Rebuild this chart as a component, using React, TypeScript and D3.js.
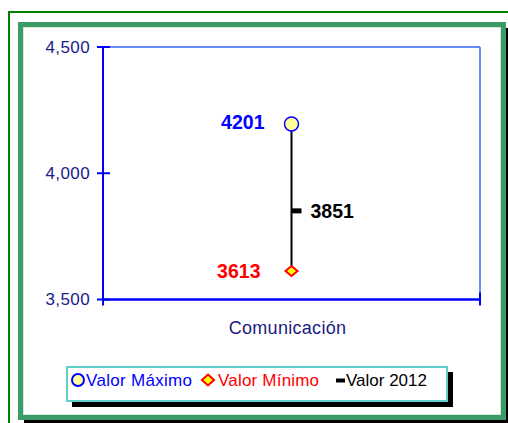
import React from "react";
import * as d3 from "d3";

const categories = ["Comunicación"];
const maxValues = [4201];
const minValues = [3613];
const values2012 = [3851];
const yTicks = [3500, 4000, 4500];
const legendItems = ["Valor Máximo", "Valor Mínimo", "Valor 2012"];

const W = 508;
const H = 423;
const FONT = "Arial, 'Liberation Sans', sans-serif";

export default function App() {
  const plot = { left: 103, right: 480, top: 47, bottom: 299.5 };
  const y = d3.scaleLinear().domain([3500, 4500]).range([plot.bottom, plot.top]);
  const x = d3
    .scaleBand<string>()
    .domain(categories)
    .range([plot.left, plot.right])
    .padding(0);
  const fmt = d3.format(",");

  const diamond = (cx: number, cy: number, w: number, h: number) =>
    `M${cx},${cy - h / 2} L${cx + w / 2},${cy} L${cx},${cy + h / 2} L${cx - w / 2},${cy} Z`;

  return (
    <div style={{ position: "absolute", left: 0, top: 0 }}>
      <svg width={W} height={H} style={{ display: "block" }} fontFamily={FONT}>
        <rect width={W} height={H} fill="#ffffff" />
        {/* outer thin green border */}
        <rect x={9} y={12} width={W + 20} height={H + 20} fill="none" stroke="#008000" strokeWidth={2} />
        {/* shadow of thick frame */}
        <rect x={24} y={28} width={484} height={395} fill="#000000" />
        {/* thick frame */}
        <rect x={18} y={22} width={488} height={398} fill="#3b9c68" />
        <rect x={23} y={27} width={478} height={388} fill="#cfe8d8" />
        <rect x={24} y={28} width={476} height={386} fill="#ffffff" />

        {/* plot frame */}
        <line x1={plot.left} x2={plot.right} y1={plot.top} y2={plot.top} stroke="#3366ff" strokeWidth={1.5} />
        <line x1={plot.right} x2={plot.right} y1={plot.top} y2={plot.bottom} stroke="#3366ff" strokeWidth={1.5} />
        {/* y axis */}
        <line x1={plot.left} x2={plot.left} y1={plot.top - 1} y2={plot.bottom + 1} stroke="#0000ff" strokeWidth={2} />
        {yTicks.map((t) => (
          <g key={t}>
            <line x1={97} x2={110} y1={y(t)} y2={y(t)} stroke="#0000ff" strokeWidth={2} />
            <text
              x={90}
              y={y(t)}
              textAnchor="end"
              dominantBaseline="central"
              fontSize={17}
              fill="#1a1a8c"
              letterSpacing={0.4}
            >
              {fmt(t)}
            </text>
          </g>
        ))}
        {/* x axis */}
        <line x1={plot.left} x2={plot.right} y1={plot.bottom} y2={plot.bottom} stroke="#0000ff" strokeWidth={2.5} />
        {[plot.left, plot.right].map((tx, i) => (
          <line key={i} x1={tx} x2={tx} y1={plot.bottom - 7} y2={plot.bottom + 6} stroke="#0000ff" strokeWidth={2} />
        ))}
        {categories.map((c) => (
          <text
            key={c}
            x={(x(c) ?? 0) + x.bandwidth() / 2 - 4}
            y={328}
            textAnchor="middle"
            dominantBaseline="central"
            fontSize={18}
            fill="#1a1a80"
            letterSpacing={0.3}
          >
            {c}
          </text>
        ))}

        {/* high-low lines and markers */}
        {categories.map((c, i) => {
          const cx = (x(c) ?? 0) + x.bandwidth() / 2;
          const yMax = y(maxValues[i]);
          const yMin = y(minValues[i]);
          const yV = y(values2012[i]);
          return (
            <g key={c}>
              <line x1={cx} x2={cx} y1={yMax} y2={yMin} stroke="#000000" strokeWidth={2} />
              <rect x={cx} y={yV - 2.5} width={10} height={5} fill="#000000" />
              <circle cx={cx} cy={yMax + 1.5} r={7} fill="#ffff99" stroke="#0000ff" strokeWidth={1.5} />
              <path d={diamond(cx, yMin, 12, 10)} fill="#ffff00" stroke="#ff0000" strokeWidth={2} />
              <text x={cx - 27} y={yMax} textAnchor="end" dominantBaseline="central" fontSize={19.5} fontWeight="bold" fill="#0000ff">
                {maxValues[i]}
              </text>
              <text x={cx - 31} y={yMin} textAnchor="end" dominantBaseline="central" fontSize={19.5} fontWeight="bold" fill="#ff0000">
                {minValues[i]}
              </text>
              <text x={cx + 19} y={yV} textAnchor="start" dominantBaseline="central" fontSize={19.5} fontWeight="bold" fill="#000000">
                {values2012[i]}
              </text>
            </g>
          );
        })}

        {/* legend */}
        <rect x={72} y={372} width={381} height={35} fill="#000000" />
        <rect x={67} y={367} width={380} height={34} fill="#ffffff" stroke="#5ccfcf" strokeWidth={2} />
        <circle cx={78} cy={380} r={6} fill="#ffff99" stroke="#0000ff" strokeWidth={2} />
        <text x={86} y={380} dominantBaseline="central" fontSize={17} fill="#0000ff" letterSpacing={0.3}>
          {legendItems[0]}
        </text>
        <path d={diamond(208, 380, 12, 11)} fill="#ffff00" stroke="#ff0000" strokeWidth={2} />
        <text x={218} y={380} dominantBaseline="central" fontSize={17} fill="#ff0000" letterSpacing={0.2}>
          {legendItems[1]}
        </text>
        <rect x={336} y={378.5} width={9} height={4} fill="#000000" />
        <text x={346} y={380} dominantBaseline="central" fontSize={17} fill="#000000">
          {legendItems[2]}
        </text>
      </svg>
    </div>
  );
}
